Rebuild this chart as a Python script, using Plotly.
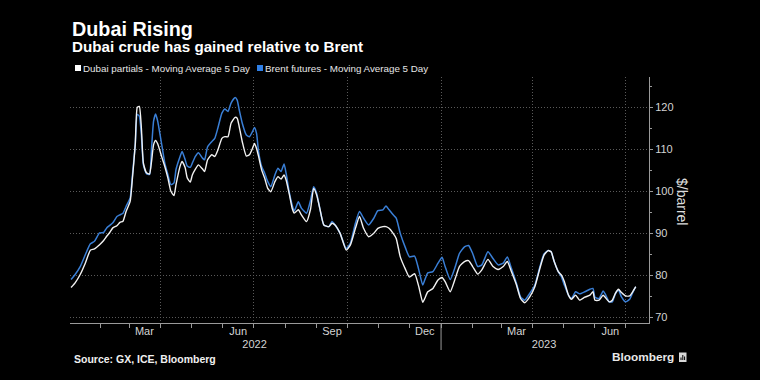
import plotly.graph_objects as go

# ---------------- data ----------------
DATES = [
    "2022-01-03", "2022-01-07", "2022-01-12", "2022-01-17", "2022-01-22", "2022-01-26", "2022-01-31",
    "2022-02-04", "2022-02-07", "2022-02-10", "2022-02-13", "2022-02-17", "2022-02-20", "2022-02-23",
    "2022-02-26", "2022-03-02", "2022-03-04", "2022-03-07", "2022-03-09", "2022-03-11", "2022-03-13",
    "2022-03-15", "2022-03-18", "2022-03-21", "2022-03-23", "2022-03-25", "2022-03-27", "2022-03-29",
    "2022-04-02", "2022-04-05", "2022-04-08", "2022-04-11", "2022-04-14", "2022-04-16", "2022-04-20",
    "2022-04-22", "2022-04-25", "2022-04-27", "2022-04-30",
    "2022-05-02", "2022-05-05", "2022-05-08", "2022-05-12", "2022-05-14", "2022-05-17", "2022-05-21",
    "2022-05-24", "2022-05-27", "2022-05-31", "2022-06-03", "2022-06-06", "2022-06-09", "2022-06-13",
    "2022-06-15", "2022-06-17", "2022-06-20", "2022-06-24", "2022-06-27", "2022-06-30", "2022-07-02",
    "2022-07-04", "2022-07-06", "2022-07-09", "2022-07-12", "2022-07-15", "2022-07-18", "2022-07-22",
    "2022-07-25", "2022-07-28", "2022-07-31", "2022-08-02", "2022-08-05", "2022-08-08", "2022-08-10",
    "2022-08-14", "2022-08-17",
    "2022-08-22", "2022-08-26", "2022-08-29", "2022-09-01", "2022-09-04", "2022-09-08", "2022-09-13",
    "2022-09-16", "2022-09-19", "2022-09-24", "2022-09-30", "2022-10-04", "2022-10-09", "2022-10-13",
    "2022-10-17", "2022-10-22", "2022-10-27", "2022-10-31", "2022-11-05", "2022-11-08", "2022-11-11",
    "2022-11-15", "2022-11-18", "2022-11-22", "2022-11-27", "2022-12-01", "2022-12-06", "2022-12-10",
    "2022-12-14",
    "2022-12-16", "2022-12-19", "2022-12-24", "2022-12-29", "2023-01-02", "2023-01-05", "2023-01-10",
    "2023-01-15", "2023-01-19", "2023-01-24", "2023-01-28", "2023-02-01", "2023-02-06", "2023-02-10",
    "2023-02-16", "2023-02-21", "2023-02-26", "2023-03-03", "2023-03-07", "2023-03-11", "2023-03-16",
    "2023-03-20", "2023-03-24", "2023-03-29", "2023-04-03", "2023-04-08", "2023-04-12",
    "2023-04-16", "2023-04-19", "2023-04-22", "2023-04-26", "2023-04-29", "2023-05-02", "2023-05-06",
    "2023-05-09", "2023-05-13", "2023-05-17", "2023-05-22", "2023-05-27", "2023-05-30", "2023-06-01",
    "2023-06-05", "2023-06-09", "2023-06-11", "2023-06-15", "2023-06-18", "2023-06-21", "2023-06-24",
    "2023-06-27", "2023-07-01", "2023-07-05", "2023-07-08", "2023-07-11",
]

BRENT = [
    79.0, 80.2, 82.1, 84.9, 87.5, 88.1, 90.1,
    90.2, 91.3, 91.9, 92.5, 94.0, 94.4, 94.8,
    96.4, 98.4, 103.2, 111.1, 118.3, 117.9, 113.5,
    106.3, 104.2, 104.0, 110.3, 116.7, 118.4, 116.7,
    111.1, 106.7, 104.0, 101.6, 102.0, 105.2, 108.3,
    109.5, 107.5, 106.0, 105.7,
    106.7, 108.3, 109.2, 107.9, 107.5, 110.6, 111.8,
    112.6, 115.0, 118.6, 119.6, 119.0, 121.0, 122.3,
    121.7, 119.4, 116.2, 113.4, 113.0, 114.2, 115.2,
    113.8, 109.4, 105.9, 104.3, 102.3, 101.1, 103.9,
    105.5, 104.7, 106.5, 104.3, 99.9, 96.7, 95.3,
    97.5, 96.0,
    94.8, 97.9, 101.1, 99.5, 96.0, 92.0, 91.6,
    92.8, 92.0, 90.0, 86.4, 87.6, 92.4, 95.2,
    93.6, 92.0, 93.6, 95.4, 95.6, 96.5, 95.6,
    94.4, 93.6, 90.0, 86.6, 84.4, 84.6, 81.5,
    77.7,
    78.9, 80.6, 80.9, 82.9, 84.3, 82.1, 79.0,
    82.1, 85.2, 86.8, 87.1, 85.2, 82.1, 82.5,
    85.6, 84.0, 82.5, 82.9, 84.4, 81.7, 78.1,
    74.9, 74.1, 75.7, 77.7, 82.1, 85.1,
    85.9, 85.6, 83.3, 80.9, 79.7, 77.7, 75.3,
    74.5, 76.1, 75.6, 76.1, 76.7, 76.9, 74.8,
    74.5, 76.3, 75.6, 73.7, 73.7, 75.6, 76.5,
    74.9, 73.7, 74.3, 75.9, 77.3,
]

DUBAI = [
    77.1, 78.2, 80.2, 82.9, 86.0, 86.3, 87.3,
    88.3, 89.3, 90.2, 91.3, 91.8, 92.6, 92.9,
    95.2, 97.6, 102.4, 111.1, 120.0, 120.2, 115.1,
    106.7, 104.4, 104.1, 107.1, 111.1, 112.1, 111.3,
    108.2, 105.9, 103.2, 100.0, 99.0, 101.6, 106.0,
    107.1, 105.6, 103.2, 102.2,
    103.9, 105.3, 106.3, 105.3, 104.7, 107.5, 108.7,
    108.3, 109.8, 112.6, 113.0, 113.0, 116.2, 117.6,
    117.4, 115.4, 111.8, 108.4, 108.7, 110.2, 111.4,
    110.2, 108.3, 105.1, 103.1, 100.7, 99.9, 102.3,
    103.5, 102.9, 103.9, 102.7, 99.5, 95.9, 94.8,
    95.6, 94.4,
    92.8, 95.8, 100.7, 99.1, 96.0, 92.0, 91.6,
    92.4, 92.0, 90.0, 86.0, 87.2, 91.2, 94.0,
    91.2, 89.2, 90.0, 91.2, 91.6, 91.6, 91.2,
    90.0, 88.8, 84.4, 81.5, 79.6, 80.4, 77.5,
    73.6,
    74.5, 76.1, 76.9, 78.9, 79.5, 78.5, 76.1,
    79.3, 82.1, 83.3, 83.5, 82.1, 80.3, 81.3,
    83.8, 82.1, 81.4, 82.1, 83.3, 80.9, 77.7,
    74.5, 73.5, 74.9, 77.3, 81.7, 84.8,
    85.9, 85.6, 83.3, 80.9, 80.1, 78.5, 75.3,
    74.3, 75.3, 74.1, 74.8, 75.3, 76.1, 74.1,
    74.1, 75.3, 74.8, 73.7, 74.1, 75.7, 76.7,
    75.9, 75.1, 75.1, 76.1, 77.3,
]

SERIES_NAMES = ["Dubai partials - Moving Average 5 Day", "Brent futures - Moving Average 5 Day"]
TITLE = "Dubai Rising"
SUBTITLE = "Dubai crude has gained relative to Brent"
SOURCE = "Source: GX, ICE, Bloomberg"
Y_TITLE = "$/barrel"
Y_TICKS = [70, 80, 90, 100, 110, 120]
Y_MINOR = [75, 85, 95, 105, 115, 125]
QUARTER_GRID = ["2022-04-01", "2022-07-01", "2022-10-01", "2023-01-01", "2023-04-01", "2023-07-01"]
MONTH_STARTS = ["2022-%02d-01" % m for m in range(1, 13)] + ["2023-%02d-01" % m for m in range(1, 8)]
MONTH_LABEL_DATES = ["2022-03-16", "2022-06-16", "2022-09-16", "2022-12-16", "2023-03-16", "2023-06-16"]
MONTH_LABELS = ["Mar", "Jun", "Sep", "Dec", "Mar", "Jun"]
YEAR_LABEL_DATES = ["2022-07-02", "2023-04-12"]
YEAR_LABELS = ["2022", "2023"]
YEAR_BREAK = "2023-01-01"
X_RANGE = ["2022-01-02", "2023-07-24"]
Y_RANGE = [68.67, 127.2]

# ---------------- styling ----------------
FONT = "Liberation Sans, Arial, Helvetica, sans-serif"
WHITE_LINE = "#f2f2f2"
BLUE_LINE = "#3a7fd6"
AXIS = "#9a9a9a"
GRID = "#5a5a5a"
GRID_DASH = "1px,2px"
TICKTXT = "#d4d4d4"

W, H = 760, 380
ML, MR, MT, MB = 70, 111, 77, 57
PW, PH = W - ML - MR, H - MT - MB


def px2x(p):
    return (p - ML) / PW


def py2y(p):
    return (H - MB - p) / PH


fig = go.Figure()
fig.add_trace(go.Scatter(x=DATES, y=BRENT, name=SERIES_NAMES[1], mode="lines",
                         line=dict(color=BLUE_LINE, width=1.5, shape="spline", smoothing=0.5),
                         showlegend=False))
fig.add_trace(go.Scatter(x=DATES, y=DUBAI, name=SERIES_NAMES[0], mode="lines",
                         line=dict(color=WHITE_LINE, width=1.4, shape="spline", smoothing=0.5),
                         showlegend=False))
# empty helper traces so the label axes are drawn
fig.add_trace(go.Scatter(x=[], y=[], xaxis="x2", showlegend=False, hoverinfo="skip"))
fig.add_trace(go.Scatter(x=[], y=[], xaxis="x3", showlegend=False, hoverinfo="skip"))

fig.update_layout(
    width=W, height=H,
    margin=dict(l=ML, r=MR, t=MT, b=MB, pad=0),
    paper_bgcolor="#000000", plot_bgcolor="#000000",
    font=dict(family=FONT, color=TICKTXT),
    showlegend=False,
    xaxis=dict(
        type="date", range=X_RANGE, anchor="y",
        tickmode="array", tickvals=QUARTER_GRID, showticklabels=False,
        ticks="outside", ticklen=4, tickcolor=AXIS, tickwidth=1,
        showgrid=True, gridcolor=GRID, griddash=GRID_DASH, gridwidth=1,
        showline=True, linecolor=AXIS, linewidth=1, zeroline=False,
        minor=dict(tickmode="array", tickvals=MONTH_STARTS, ticks="outside", ticklen=4,
                   tickcolor=AXIS, showgrid=False),
    ),
    xaxis2=dict(
        type="date", range=X_RANGE, overlaying="x", anchor="y", side="bottom",
        tickmode="array", tickvals=MONTH_LABEL_DATES, ticktext=MONTH_LABELS,
        ticks="", showgrid=False, showline=False, zeroline=False,
        tickfont=dict(size=11, color=TICKTXT, family=FONT),
    ),
    xaxis3=dict(
        type="date", range=X_RANGE, overlaying="x", anchor="y", side="bottom",
        tickmode="array", tickvals=YEAR_LABEL_DATES, ticktext=YEAR_LABELS,
        ticks="", showgrid=False, showline=False, zeroline=False, ticklabelstandoff=13,
        tickfont=dict(size=11, color=TICKTXT, family=FONT),
    ),
    yaxis=dict(
        range=Y_RANGE, side="right", anchor="x",
        tickmode="array", tickvals=Y_TICKS,
        ticks="outside", ticklen=3, tickcolor=AXIS, tickwidth=1,
        showgrid=True, gridcolor=GRID, griddash=GRID_DASH, gridwidth=1,
        showline=True, linecolor=AXIS, linewidth=1, zeroline=False,
        tickfont=dict(size=11, color=TICKTXT, family=FONT),
        minor=dict(tickmode="array", tickvals=Y_MINOR, ticks="outside", ticklen=2,
                   tickcolor=AXIS, showgrid=False),
    ),
)

ann = []
ann.append(dict(text=TITLE, x=px2x(70), y=py2y(29), xref="paper", yref="paper",
                xanchor="left", yanchor="middle", showarrow=False,
                font=dict(size=19.8, color="#ffffff", family=FONT, weight="bold")))
ann.append(dict(text=SUBTITLE, x=px2x(70), y=py2y(46), xref="paper", yref="paper",
                xanchor="left", yanchor="middle", showarrow=False,
                font=dict(size=15.2, color="#ffffff", family=FONT, weight="bold")))
ann.append(dict(text=SERIES_NAMES[0], x=px2x(81), y=py2y(68), xref="paper", yref="paper",
                xanchor="left", yanchor="middle", showarrow=False,
                font=dict(size=9.8, color="#e6e6e6", family=FONT)))
ann.append(dict(text=SERIES_NAMES[1], x=px2x(263), y=py2y(68), xref="paper", yref="paper",
                xanchor="left", yanchor="middle", showarrow=False,
                font=dict(size=9.8, color="#e6e6e6", family=FONT)))
ann.append(dict(text=Y_TITLE, x=px2x(682), y=py2y(201), xref="paper", yref="paper",
                xanchor="center", yanchor="middle", showarrow=False, textangle=90,
                font=dict(size=14, color="#dddddd", family=FONT)))
ann.append(dict(text=SOURCE, x=px2x(71.5), y=py2y(358.5), xref="paper", yref="paper",
                xanchor="left", yanchor="middle", showarrow=False,
                font=dict(size=10.5, color="#f0f0f0", family=FONT, weight="bold")))
ann.append(dict(text="Bloomberg", x=px2x(610), y=py2y(357), xref="paper", yref="paper",
                xanchor="left", yanchor="middle", showarrow=False,
                font=dict(size=11.8, color="#e8e8e8", family=FONT, weight="bold")))
fig.update_layout(annotations=ann)

shapes = []
# legend swatches
shapes.append(dict(type="rect", xref="paper", yref="paper", x0=px2x(75), x1=px2x(81),
                   y0=py2y(71), y1=py2y(65), fillcolor="#ffffff", line=dict(width=0)))
shapes.append(dict(type="rect", xref="paper", yref="paper", x0=px2x(257), x1=px2x(263),
                   y0=py2y(71), y1=py2y(65), fillcolor="#2f7fe6", line=dict(width=0)))
# year separator under the axis
shapes.append(dict(type="line", xref="x", yref="paper", x0=YEAR_BREAK, x1=YEAR_BREAK,
                   y0=0, y1=py2y(350), line=dict(color=AXIS, width=1)))
# Bloomberg logo mark
shapes.append(dict(type="rect", xref="paper", yref="paper", x0=px2x(679), x1=px2x(686.5),
                   y0=py2y(362), y1=py2y(352.5), fillcolor="#d9d9d9", line=dict(width=0)))
for bx, top in [(681, 357.5), (682.8, 355), (684.6, 356.5)]:
    shapes.append(dict(type="line", xref="paper", yref="paper", x0=px2x(bx), x1=px2x(bx),
                       y0=py2y(360), y1=py2y(top), line=dict(color="#000000", width=1)))
fig.update_layout(shapes=shapes)

fig.write_html(
    "out.html",
    config={"displayModeBar": False},
    post_script="document.body.style.margin='0';document.body.style.background='#000';",
)
